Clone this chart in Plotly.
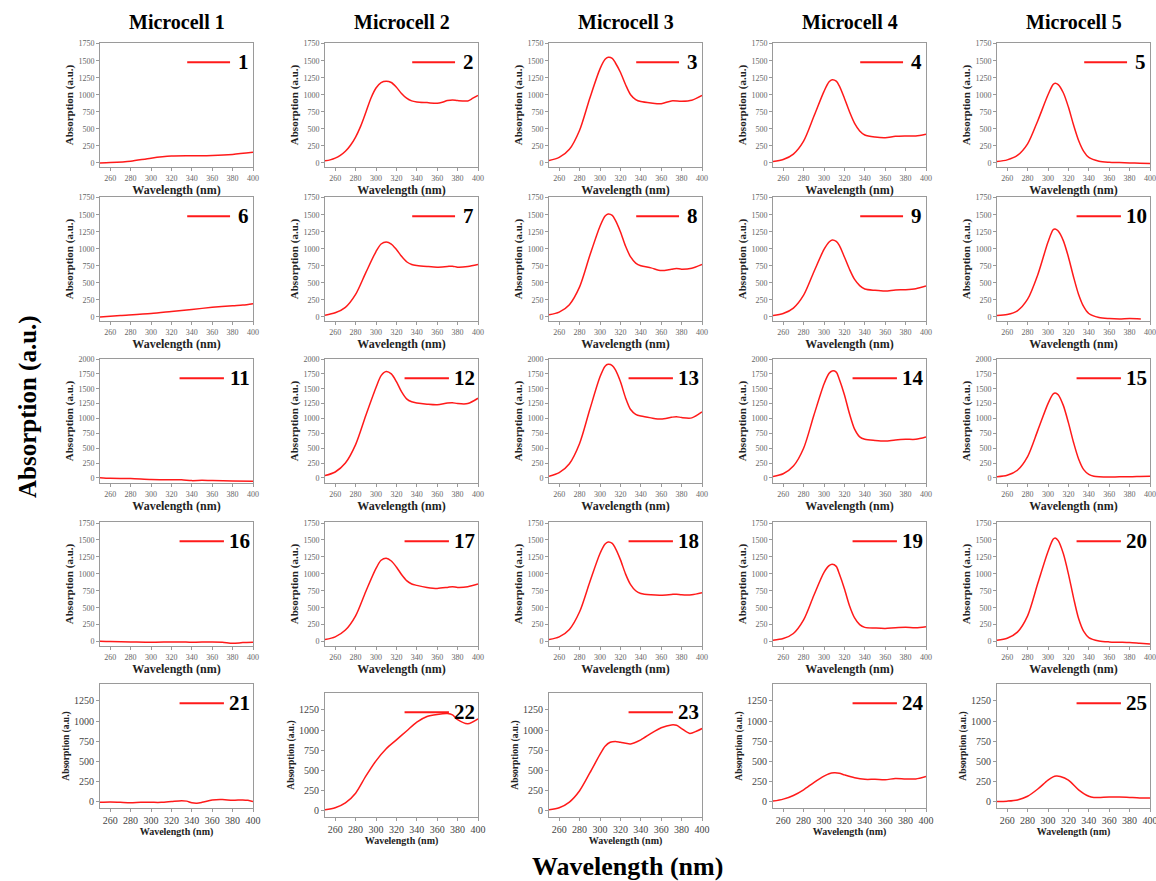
import plotly.graph_objects as go

# ---------------- data ----------------
microcells = ["Microcell 1", "Microcell 2", "Microcell 3", "Microcell 4", "Microcell 5"]
panel_labels = [str(i) for i in range(1, 26)]
x_tickvals = [260, 280, 300, 320, 340, 360, 380, 400]

wl01 = [250, 260, 280, 300, 320, 340, 360, 380, 400]
ab01 = [0, 5, 25, 70, 100, 105, 110, 125, 155]

wl02 = [250, 255, 260, 265, 270, 275, 280, 285, 290, 295, 300, 305, 310, 315, 320, 325, 330, 335, 340, 350, 360, 365, 370, 375, 380, 390, 395, 400]
ab02 = [30, 45, 70, 110, 170, 260, 380, 540, 740, 950, 1100, 1180, 1200, 1180, 1110, 1020, 950, 910, 895, 885, 875, 890, 915, 925, 915, 910, 950, 990]

wl03 = [250, 260, 270, 280, 290, 300, 305, 308, 312, 315, 320, 325, 330, 335, 340, 350, 360, 370, 380, 390, 400]
ab03 = [35, 80, 200, 480, 950, 1380, 1520, 1550, 1535, 1470, 1330, 1150, 1000, 930, 900, 880, 870, 910, 905, 920, 990]

wl04 = [250, 260, 270, 280, 290, 300, 305, 308, 312, 315, 320, 325, 330, 335, 340, 350, 360, 370, 380, 390, 400]
ab04 = [20, 50, 130, 320, 680, 1050, 1190, 1220, 1200, 1130, 950, 750, 580, 470, 410, 380, 370, 390, 395, 395, 420]

wl05 = [250, 260, 270, 280, 290, 300, 305, 307, 310, 315, 320, 325, 330, 335, 340, 350, 360, 370, 380, 390, 400]
ab05 = [20, 45, 110, 280, 620, 1000, 1150, 1170, 1150, 1030, 820, 560, 330, 170, 80, 25, 10, 5, 0, -5, -10]

wl06 = [250, 270, 300, 320, 340, 360, 380, 390, 400]
ab06 = [0, 20, 50, 80, 110, 140, 165, 175, 195]

wl07 = [250, 260, 270, 280, 290, 300, 305, 310, 315, 320, 325, 330, 335, 340, 350, 360, 370, 375, 380, 390, 400]
ab07 = [25, 60, 140, 330, 650, 960, 1070, 1100, 1070, 990, 890, 810, 770, 755, 740, 730, 740, 745, 730, 740, 770]

wl08 = [250, 260, 270, 280, 290, 300, 305, 308, 312, 315, 320, 325, 330, 335, 340, 350, 360, 370, 375, 380, 390, 400]
ab08 = [30, 70, 180, 440, 900, 1330, 1480, 1510, 1490, 1420, 1250, 1040, 880, 790, 750, 720, 680, 700, 710, 700, 715, 770]

wl09 = [250, 260, 270, 280, 290, 300, 305, 308, 312, 315, 320, 325, 330, 335, 340, 350, 360, 370, 380, 390, 400]
ab09 = [20, 50, 130, 320, 660, 990, 1100, 1130, 1110, 1050, 880, 700, 550, 460, 410, 390, 380, 395, 400, 415, 455]

wl10 = [250, 260, 270, 280, 290, 300, 305, 307, 310, 315, 320, 325, 330, 335, 340, 350, 360, 370, 380, 391]
ab10 = [20, 35, 90, 260, 620, 1100, 1280, 1290, 1260, 1120, 880, 590, 330, 150, 50, -10, -25, -30, -25, -30]

wl11 = [250, 260, 280, 300, 320, 330, 340, 350, 360, 380, 400]
ab11 = [5, -5, -10, -25, -30, -30, -45, -40, -45, -50, -55]

wl12 = [250, 260, 270, 280, 290, 300, 305, 310, 315, 320, 325, 330, 335, 340, 350, 360, 370, 375, 380, 390, 400]
ab12 = [40, 100, 250, 560, 1050, 1520, 1720, 1790, 1750, 1620, 1450, 1330, 1280, 1260, 1240, 1230, 1260, 1265, 1250, 1250, 1340]

wl13 = [250, 260, 270, 280, 290, 300, 305, 308, 312, 315, 320, 325, 330, 335, 340, 350, 360, 370, 375, 380, 390, 400]
ab13 = [30, 90, 240, 580, 1150, 1700, 1880, 1910, 1890, 1820, 1620, 1350, 1150, 1070, 1040, 1010, 990, 1020, 1030, 1015, 1010, 1110]

wl14 = [250, 260, 270, 280, 290, 300, 305, 308, 312, 315, 320, 325, 330, 335, 340, 350, 360, 370, 380, 390, 400]
ab14 = [25, 70, 200, 500, 1050, 1580, 1760, 1800, 1780, 1660, 1400, 1080, 820, 690, 650, 630, 620, 640, 650, 650, 690]

wl15 = [250, 260, 270, 280, 290, 300, 305, 307, 310, 315, 320, 325, 330, 335, 340, 345, 350, 360, 370, 380, 390, 400]
ab15 = [20, 45, 130, 360, 800, 1250, 1410, 1430, 1400, 1220, 930, 600, 320, 140, 60, 30, 20, 15, 20, 20, 25, 30]

wl16 = [250, 260, 280, 300, 320, 330, 340, 360, 370, 380, 390, 400]
ab16 = [5, 0, -5, -10, -5, -5, -10, -5, -10, -25, -15, -10]

wl17 = [250, 260, 270, 280, 290, 300, 305, 310, 315, 320, 325, 330, 335, 340, 350, 360, 370, 375, 380, 390, 400]
ab17 = [30, 70, 170, 380, 740, 1080, 1200, 1230, 1190, 1100, 990, 900, 850, 830, 800, 785, 800, 810, 800, 810, 850]

wl18 = [250, 260, 270, 280, 290, 300, 305, 308, 312, 315, 320, 325, 330, 335, 340, 350, 360, 370, 375, 380, 390, 400]
ab18 = [30, 70, 180, 440, 880, 1300, 1440, 1470, 1450, 1380, 1210, 1000, 840, 750, 710, 690, 685, 695, 700, 690, 690, 720]

wl19 = [250, 260, 270, 280, 290, 300, 305, 308, 312, 315, 320, 325, 330, 335, 340, 350, 360, 370, 380, 390, 400]
ab19 = [20, 45, 120, 320, 680, 1020, 1120, 1140, 1110, 1000, 780, 530, 350, 250, 210, 200, 195, 205, 210, 205, 220]

wl20 = [250, 260, 270, 280, 290, 300, 305, 307, 310, 315, 320, 325, 330, 335, 340, 350, 360, 370, 380, 390, 400]
ab20 = [20, 50, 140, 380, 860, 1330, 1510, 1530, 1490, 1300, 1000, 650, 340, 150, 60, 10, -5, -10, -15, -25, -35]

wl21 = [250, 260, 270, 280, 290, 300, 310, 320, 330, 335, 340, 345, 350, 360, 370, 380, 390, 395, 400]
ab21 = [-5, 0, -5, -10, -5, -5, -5, 5, 15, 10, -10, -15, -5, 25, 30, 20, 25, 20, 5]

wl22 = [250, 260, 270, 280, 290, 300, 310, 320, 330, 340, 350, 360, 370, 375, 380, 390, 400]
ab22 = [15, 40, 100, 220, 430, 620, 770, 880, 990, 1100, 1170, 1195, 1205, 1190, 1130, 1080, 1140]

wl23 = [250, 260, 270, 280, 290, 300, 305, 310, 315, 320, 330, 340, 350, 360, 370, 375, 380, 388, 395, 400]
ab23 = [15, 40, 110, 250, 470, 700, 800, 850, 860, 850, 830, 880, 960, 1030, 1065, 1060, 1020, 960, 990, 1020]

wl24 = [250, 260, 270, 280, 290, 300, 305, 310, 315, 320, 330, 340, 350, 360, 370, 380, 390, 400]
ab24 = [10, 35, 80, 150, 240, 320, 350, 360, 355, 335, 300, 280, 280, 275, 290, 285, 285, 315]

wl25 = [250, 260, 270, 280, 290, 300, 305, 308, 312, 320, 330, 340, 345, 350, 360, 370, 380, 390, 400]
ab25 = [5, 10, 25, 70, 160, 270, 310, 320, 315, 270, 150, 70, 55, 55, 60, 60, 55, 50, 50]

spectra = [
    (wl01, ab01), (wl02, ab02), (wl03, ab03), (wl04, ab04), (wl05, ab05),
    (wl06, ab06), (wl07, ab07), (wl08, ab08), (wl09, ab09), (wl10, ab10),
    (wl11, ab11), (wl12, ab12), (wl13, ab13), (wl14, ab14), (wl15, ab15),
    (wl16, ab16), (wl17, ab17), (wl18, ab18), (wl19, ab19), (wl20, ab20),
    (wl21, ab21), (wl22, ab22), (wl23, ab23), (wl24, ab24), (wl25, ab25),
]

row_yrange = [[-60, 1760], [-60, 1760], [-85, 2000], [-65, 1765], [-75, 1460]]
row_ytickvals = [
    list(range(0, 1751, 250)),
    list(range(0, 1751, 250)),
    list(range(0, 2001, 250)),
    list(range(0, 1751, 250)),
    list(range(0, 1251, 250)),
]

# ---------------- layout ----------------
W, H = 1156, 881
col_left = [100, 325, 549, 773, 997]
row_top = [43, 197, 359, 522, 684]
panel_w, panel_h = 153, 124
shift = {22: 9, 23: 9}

SERIF = "Liberation Serif, Times New Roman, serif"
RED = "#ff1a1a"
AXC = "#9a9a9a"

fig = go.Figure()
layout = dict(
    width=W, height=H,
    margin=dict(l=0, r=0, t=0, b=0),
    paper_bgcolor="white", plot_bgcolor="white",
    showlegend=False,
    font=dict(family=SERIF),
)
shapes, annotations = [], []

for r in range(5):
    for c in range(5):
        k = r * 5 + c + 1
        wl, ab = spectra[k - 1]
        xs = "" if k == 1 else str(k)
        top = row_top[r] + shift.get(k, 0)
        x0 = col_left[c] / W
        x1 = (col_left[c] + panel_w) / W
        y1 = 1 - top / H
        y0 = 1 - (top + panel_h) / H
        fig.add_trace(go.Scatter(
            x=wl, y=ab, mode="lines",
            line=dict(color=RED, width=1.5, shape="spline", smoothing=0.8),
            xaxis="x" + xs, yaxis="y" + xs, name=panel_labels[k - 1],
        ))
        small = (r == 4)
        tick_font = dict(family=SERIF, size=10 if small else 8, color="#444" if small else "#666")
        layout["xaxis" + xs] = dict(
            domain=[x0, x1], anchor="y" + xs, range=[250, 400],
            tickvals=x_tickvals, ticks="outside", ticklen=3, tickcolor=AXC,
            showline=True, linecolor=AXC, linewidth=1, mirror=True,
            showgrid=False, zeroline=False, tickfont=tick_font,
            ticklabeloverflow="allow",
            title=dict(text="<b>Wavelength (nm)</b>",
                       font=dict(family=SERIF, size=10 if small else 12, color="#222"),
                       standoff=1),
            automargin=False,
        )
        layout["yaxis" + xs] = dict(
            domain=[y0, y1], anchor="x" + xs, range=row_yrange[r],
            tickvals=row_ytickvals[r], ticks="outside", ticklen=3, tickcolor=AXC,
            showline=True, linecolor=AXC, linewidth=1, mirror=True,
            showgrid=False, zeroline=False, tickfont=tick_font,
            ticklabeloverflow="allow",
            title=dict(text="<b>Absorption (a.u.)</b>",
                       font=dict(family=SERIF, size=9.5 if small else 11, color="#222"),
                       standoff=2),
            automargin=False,
        )
        two = len(panel_labels[k - 1]) > 1
        lx0, lx1, tx = (0.52, 0.81, 0.915) if two else (0.57, 0.85, 0.94)
        ly = 0.845
        shapes.append(dict(type="line", xref="x" + xs + " domain", yref="y" + xs + " domain",
                           x0=lx0, x1=lx1, y0=ly, y1=ly, line=dict(color=RED, width=2)))
        annotations.append(dict(xref="x" + xs + " domain", yref="y" + xs + " domain",
                                x=tx, y=ly, xanchor="center", yanchor="middle", showarrow=False,
                                text="<b>" + panel_labels[k - 1] + "</b>",
                                font=dict(family=SERIF, size=21, color="black")))

for c in range(5):
    annotations.append(dict(xref="paper", yref="paper",
                            x=(col_left[c] + panel_w / 2) / W, y=1 - 22 / H,
                            xanchor="center", yanchor="middle", showarrow=False,
                            text="<b>" + microcells[c] + "</b>",
                            font=dict(family=SERIF, size=20, color="black")))

annotations.append(dict(xref="paper", yref="paper", x=28 / W, y=1 - 407 / H,
                        xanchor="center", yanchor="middle", showarrow=False, textangle=-90,
                        text="<b>Absorption (a.u.)</b>",
                        font=dict(family=SERIF, size=25, color="black")))
annotations.append(dict(xref="paper", yref="paper", x=627 / W, y=1 - 866 / H,
                        xanchor="center", yanchor="middle", showarrow=False,
                        text="<b>Wavelength (nm)</b>",
                        font=dict(family=SERIF, size=26, color="black")))

layout["shapes"] = shapes
layout["annotations"] = annotations
fig.update_layout(**layout)
fig.write_html("out.html")
